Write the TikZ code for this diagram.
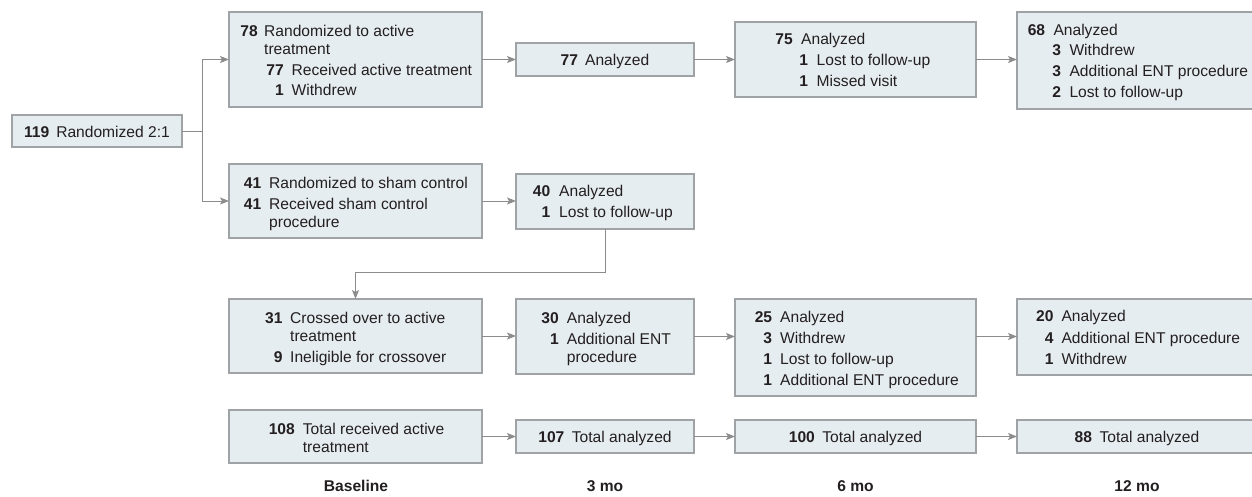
\documentclass[tikz,border=0pt]{standalone}
\usepackage{fontspec}
\setmainfont{Liberation Sans}
\usetikzlibrary{arrows.meta,calc}
\definecolor{boxfill}{RGB}{230,237,241}
\definecolor{boxline}{RGB}{160,163,166}
\definecolor{arrowc}{RGB}{140,140,140}
\definecolor{txtc}{RGB}{35,31,32}
\newcommand{\flentry}[6]{%
  \node[numtxt, anchor=base east] (#1n) at (#2,#4) {#5};
  \node[plaintxt, anchor=base west] (#1t) at (#3,#4) {#6};}
\newcommand{\flcont}[4]{\node[plaintxt, anchor=base west] (#1) at (#2,#3) {#4};}
\begin{document}
\begin{tikzpicture}[x=1pt, y=-1pt,
  box/.style={draw=boxline, fill=boxfill, line width=1.1pt, inner sep=0pt, outer sep=0pt, rectangle},
  single/.style={box, font=\fontsize{15.6}{18}\selectfont, text=txtc, text height=12pt, text depth=0pt},
  numtxt/.style={inner sep=0pt, font=\fontsize{15.6}{18}\selectfont\bfseries, text=txtc},
  plaintxt/.style={inner sep=0pt, font=\fontsize{15.6}{18}\selectfont, text=txtc},
  arr/.style={draw=arrowc, line width=1pt, -{Stealth[length=9pt,width=7pt,inset=2pt]}},
  lnk/.style={draw=arrowc, line width=1pt},
  tlabel/.style={font=\fontsize{15.6}{18}\selectfont\bfseries, text=txtc, anchor=base, inner sep=0pt}]
\useasboundingbox (0,0) rectangle (1252,496);
\clip (0,0) rectangle (1252,496);

% boxes
\node[single, minimum width=170pt, minimum height=32pt] (b119) at (97,131) {\textbf{119}\hspace{7pt}Randomized 2:1};
\node[box, minimum width=253pt, minimum height=95pt] (b78) at (355.5,59.5) {};
\node[box, minimum width=253pt, minimum height=74pt] (b41) at (355.5,201) {};
\node[single, minimum width=178pt, minimum height=33pt] (b77) at (605,59.5) {\textbf{77}\hspace{7pt}Analyzed};
\node[box, minimum width=178pt, minimum height=55pt] (b40) at (605,201.5) {};
\node[box, minimum width=241pt, minimum height=75pt] (b75) at (855.5,59.5) {};
\node[box, minimum width=240pt, minimum height=97pt] (b68) at (1137,60.5) {};
\node[box, minimum width=253pt, minimum height=74pt] (b31) at (355.5,336) {};
\node[box, minimum width=178pt, minimum height=75pt] (b30) at (605,336.5) {};
\node[box, minimum width=241pt, minimum height=97pt] (b25) at (855.5,347.5) {};
\node[box, minimum width=240pt, minimum height=76pt] (b20) at (1137,337) {};
\node[box, minimum width=253pt, minimum height=53pt] (b108) at (355.5,436.5) {};
\node[single, minimum width=178pt, minimum height=33pt] (b107) at (605,436.5) {\textbf{107}\hspace{7.5pt}Total analyzed};
\node[single, minimum width=241pt, minimum height=33pt] (b100) at (855.5,436.5) {\textbf{100}\hspace{7.5pt}Total analyzed};
\node[single, minimum width=240pt, minimum height=33pt] (b88) at (1137,436.5) {\textbf{88}\hspace{7.5pt}Total analyzed};

% box texts
\flentry{e78a}{258}{264}{36}{78}{Randomized to active}
\flcont{e78b}{264}{54}{treatment}
\flentry{e78c}{284}{291.5}{75}{77}{Received active treatment}
\flentry{e78d}{284}{291.5}{95}{1}{Withdrew}

\flentry{e41a}{261.5}{269}{188}{41}{Randomized to sham control}
\flentry{e41b}{261.5}{269}{209}{41}{Received sham control}
\flcont{e41c}{269}{227}{procedure}

\flentry{e40a}{550.5}{559}{196.5}{40}{Analyzed}
\flentry{e40b}{550.5}{559}{217.5}{1}{Lost to follow-up}

\flentry{e75a}{793}{801}{44.3}{75}{Analyzed}
\flentry{e75b}{808.3}{816.5}{65.7}{1}{Lost to follow-up}
\flentry{e75c}{808.3}{816.5}{86.7}{1}{Missed visit}

\flentry{e68a}{1045.3}{1053.3}{35}{68}{Analyzed}
\flentry{e68b}{1061.3}{1069.3}{55.7}{3}{Withdrew}
\flentry{e68c}{1061.3}{1069.3}{76.7}{3}{Additional ENT procedure}
\flentry{e68d}{1061.3}{1069.3}{97.7}{2}{Lost to follow-up}

\flentry{e31a}{282.7}{290}{323}{31}{Crossed over to active}
\flcont{e31b}{290}{341}{treatment}
\flentry{e31c}{282.7}{290}{362}{9}{Ineligible for crossover}

\flentry{e108a}{295}{302.7}{434}{108}{Total received active}
\flcont{e108b}{302.7}{452}{treatment}

\flentry{e30a}{559}{566.7}{323}{30}{Analyzed}
\flentry{e30b}{559}{566.7}{344}{1}{Additional ENT}
\flcont{e30c}{566.7}{362}{procedure}

\flentry{e25a}{772.3}{780}{322}{25}{Analyzed}
\flentry{e25b}{772.3}{780}{343}{3}{Withdrew}
\flentry{e25c}{772.3}{780}{364}{1}{Lost to follow-up}
\flentry{e25d}{772.3}{780}{385}{1}{Additional ENT procedure}

\flentry{e20a}{1053.7}{1061.3}{321.7}{20}{Analyzed}
\flentry{e20b}{1053.7}{1061.3}{343.3}{4}{Additional ENT procedure}
\flentry{e20c}{1053.7}{1061.3}{364.3}{1}{Withdrew}

% time labels
\node[tlabel] (lbase) at (356,491) {Baseline};
\node[tlabel] (l3) at (605,491) {3 mo};
\node[tlabel] (l6) at (855.5,491) {6 mo};
\node[tlabel] (l12) at (1137,491) {12 mo};

% connectors
\coordinate (split) at ($(b119.east)+(20.5,0)$);
\draw[lnk] (b119.east) -- (split);
\draw[arr] (split) |- (b78.west);
\draw[arr] (split) |- (b41.west);
\draw[arr] (b78.east) -- (b77.west);
\draw[arr] (b77.east) -- (b75.west);
\draw[arr] (b75.east) -- (b75.east -| b68.west);
\draw[arr] (b41.east) -- (b41.east -| b40.west);
\draw[arr] (b40.south) -- ++(0,43) -| (b31.north);
\draw[arr] (b31.east) -- (b31.east -| b30.west);
\draw[arr] (b30.east) -- (b30.east -| b25.west);
\draw[arr] (b30.east -| b25.east) -- (b30.east -| b20.west);
\draw[arr] (b108.east) -- (b107.west);
\draw[arr] (b107.east) -- (b100.west);
\draw[arr] (b100.east) -- (b88.west);
\end{tikzpicture}
\end{document}
